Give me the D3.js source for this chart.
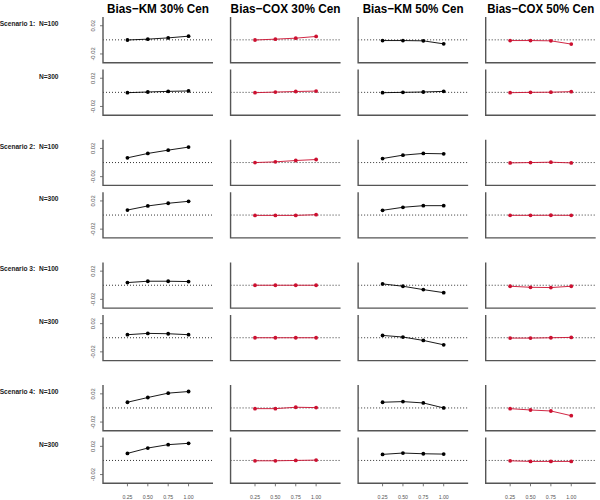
<!DOCTYPE html>
<html>
<head>
<meta charset="utf-8">
<script src="https://cdn.jsdelivr.net/npm/d3@7"></script>
<style>
  body { margin: 0; background: #fff; }
  svg { display: block; font-family: "Liberation Sans", Arial, sans-serif; }
</style>
</head>
<body>
<svg id="chart" width="600" height="500"></svg>
<script>
// columns / rows
const titles = ['Bias\u2212KM 30% Cen', 'Bias\u2212COX 30% Cen', 'Bias\u2212KM 50% Cen', 'Bias\u2212COX 50% Cen'];
const scenarios = ['Scenario 1:', 'Scenario 2:', 'Scenario 3:', 'Scenario 4:'];
const sampleSizes = ['N=100', 'N=300'];
const xValues = [0.25, 0.50, 0.75, 1.00];
const xTickLabels = ['0.25', '0.50', '0.75', '1.00'];
const yTicks = [-0.02, 0.02];

// bias values, one row per scenario x sample size (S1 N100, S1 N300, S2 N100, ...)
const biasKM30 = [
  [-0.0002, 0.0010, 0.0028, 0.0052],
  [-0.0005, 0.0005, 0.0014, 0.0020],
  [0.0067, 0.0129, 0.0176, 0.0219],
  [0.0071, 0.0129, 0.0167, 0.0195],
  [0.0038, 0.0057, 0.0057, 0.0052],
  [0.0043, 0.0062, 0.0057, 0.0043],
  [0.0081, 0.0148, 0.0210, 0.0233],
  [0.0100, 0.0176, 0.0224, 0.0243]
];
const biasCOX30 = [
  [-0.0002, 0.0010, 0.0024, 0.0048],
  [-0.0005, 0.0004, 0.0012, 0.0018],
  [0.0000, 0.0010, 0.0029, 0.0043],
  [-0.0005, -0.0005, -0.0005, 0.0005],
  [0.0000, 0.0000, 0.0000, 0.0000],
  [0.0000, 0.0000, 0.0000, 0.0000],
  [-0.0010, -0.0010, 0.0010, 0.0005],
  [-0.0005, -0.0005, 0.0000, 0.0005]
];
const biasKM50 = [
  [-0.0010, -0.0010, -0.0014, -0.0057],
  [-0.0005, 0.0000, 0.0005, 0.0014],
  [0.0057, 0.0105, 0.0129, 0.0124],
  [0.0067, 0.0110, 0.0133, 0.0133],
  [0.0019, -0.0014, -0.0062, -0.0105],
  [0.0033, 0.0010, -0.0038, -0.0100],
  [0.0081, 0.0090, 0.0071, 0.0000],
  [0.0086, 0.0105, 0.0095, 0.0090]
];
const biasCOX50 = [
  [-0.0010, -0.0010, -0.0014, -0.0060],
  [-0.0005, 0.0000, 0.0002, 0.0010],
  [-0.0005, 0.0000, 0.0005, -0.0005],
  [-0.0004, -0.0004, -0.0003, -0.0004],
  [-0.0014, -0.0029, -0.0033, -0.0014],
  [-0.0005, -0.0005, 0.0000, 0.0005],
  [-0.0010, -0.0029, -0.0043, -0.0110],
  [-0.0005, -0.0014, -0.0014, -0.0014]
];
const columns = [biasKM30, biasCOX30, biasKM50, biasCOX50];
const colColors = ['#000', '#cc1030', '#000', '#cc1030'];
const titleWidths = [102, 110, 101, 107];

const svg = d3.select('#chart');
const pw = 110, ph = 45.7;
const colLeft = d3.scaleLinear().domain([0, 3]).range([103, 485.7]);
const blockTop = d3.scaleLinear().domain([0, 3]).range([17, 385.1]);
const rowGap = 52.5;

const x = d3.scaleLinear().domain([-0.05, 1.30]).range([0, pw]);
const y = d3.scaleLinear().domain([-0.0324, 0.0324]).range([ph, 0]);

// column titles, squeezed horizontally like the original
svg.selectAll('g.title')
  .data(titles)
  .join('g')
  .attr('class', 'title')
  .each(function (d, i) {
    const g = d3.select(this);
    const t = g.append('text')
      .attr('text-anchor', 'middle')
      .attr('font-size', 12.5)
      .attr('font-weight', 'bold')
      .text(d);
    const sx = titleWidths[i] / t.node().getComputedTextLength();
    g.attr('transform', `translate(${colLeft(i) + 55},12.5) scale(${sx},1)`);
  });

for (let s = 0; s < scenarios.length; s++) {
  for (let r = 0; r < sampleSizes.length; r++) {
    const top = blockTop(s) + r * rowGap;
    const rowIdx = s * 2 + r;

    // row label
    svg.append('text')
      .attr('x', 58.5)
      .attr('y', top + 9)
      .attr('text-anchor', 'end')
      .attr('font-size', 6.6)
      .attr('font-weight', 'bold')
      .attr('fill', '#222')
      .text(r === 0 ? `${scenarios[s]}\u00a0\u00a0${sampleSizes[r]}` : sampleSizes[r]);

    columns.forEach((col, c) => {
      const g = svg.append('g').attr('transform', `translate(${colLeft(c)},${top})`);
      const vals = col[rowIdx];

      // zero reference
      g.append('line')
        .attr('x1', 0).attr('x2', pw)
        .attr('y1', y(0)).attr('y2', y(0))
        .attr('stroke', '#000').attr('stroke-width', 0.8)
        .attr('stroke-dasharray', '1,2');

      // L-shaped box
      g.append('path')
        .attr('d', `M0,0V${ph}H${pw}`)
        .attr('fill', 'none').attr('stroke', '#555').attr('stroke-width', 1.4);

      // y axis ticks only in first column
      if (c === 0) {
        g.selectAll('line.yt').data(yTicks).join('line')
          .attr('x1', -3).attr('x2', 0)
          .attr('y1', d => y(d)).attr('y2', d => y(d))
          .attr('stroke', '#555').attr('stroke-width', 0.8);
        g.selectAll('text.yl').data(yTicks).join('text')
          .attr('transform', d => `translate(-10,${y(d)}) rotate(-90)`)
          .attr('text-anchor', 'middle')
          .attr('dy', '0.35em')
          .attr('font-size', 5.8)
          .attr('fill', '#555')
          .text(d => d.toFixed(2));
      }

      // x ticks only on the bottom row
      if (rowIdx === 7) {
        g.selectAll('line.xt').data(xValues).join('line')
          .attr('x1', d => x(d)).attr('x2', d => x(d))
          .attr('y1', ph).attr('y2', ph + 3)
          .attr('stroke', '#555').attr('stroke-width', 0.8);
        g.selectAll('text.xl').data(xTickLabels).join('text')
          .attr('x', (d, i) => x(xValues[i]))
          .attr('y', ph + 15.5)
          .attr('text-anchor', 'middle')
          .attr('font-size', 5.2)
          .attr('fill', '#555')
          .text(d => d);
      }

      const line = d3.line().x((d, i) => x(xValues[i])).y(d => y(d));
      g.append('path')
        .attr('d', line(vals))
        .attr('fill', 'none')
        .attr('stroke', colColors[c])
        .attr('stroke-width', 0.9);
      g.selectAll('circle').data(vals).join('circle')
        .attr('cx', (d, i) => x(xValues[i]))
        .attr('cy', d => y(d))
        .attr('r', 1.9)
        .attr('fill', colColors[c]);
    });
  }
}
</script>
</body>
</html>
